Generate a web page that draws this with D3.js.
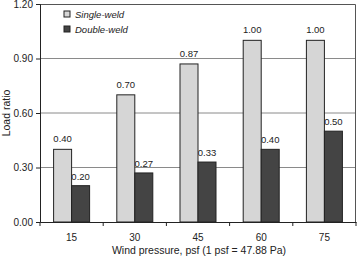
<!DOCTYPE html>
<html>
<head>
<meta charset="utf-8">
<script src="https://cdn.jsdelivr.net/npm/d3@7"></script>
<style>
  body { margin: 0; background: #fff; }
  text { font-family: "Liberation Sans", Arial, sans-serif; }
</style>
</head>
<body>
<div id="chart"></div>
<script>
const pressures = ["15", "30", "45", "60", "75"];
const singleWeld = [0.40, 0.70, 0.87, 1.00, 1.00];
const doubleWeld = [0.20, 0.27, 0.33, 0.40, 0.50];
const yTicks = [0, 0.3, 0.6, 0.9, 1.2];
const seriesNames = ["Single-weld", "Double-weld"];

const width = 362, height = 259;
const margin = {top: 4, right: 6, bottom: 37, left: 40};

const svg = d3.select("#chart").append("svg")
  .attr("width", width).attr("height", height);

const xScale = d3.scaleBand()
  .domain(pressures)
  .range([margin.left, width - margin.right]);

const yScale = d3.scaleLinear()
  .domain([0, 1.2])
  .range([height - margin.bottom, margin.top]);

const barW = 18;

// gridlines
svg.append("g")
  .selectAll("line")
  .data(yTicks.filter(d => d > 0 && d < 1.2))
  .join("line")
  .attr("x1", margin.left).attr("x2", width - margin.right)
  .attr("y1", d => yScale(d)).attr("y2", d => yScale(d))
  .attr("stroke", "#8a8a8a").attr("stroke-width", 1);

// frame top/right
svg.append("path")
  .attr("d", `M${margin.left},${margin.top + 0.5}H${width - margin.right - 0.5}V${height - margin.bottom}`)
  .attr("fill", "none").attr("stroke", "#555").attr("stroke-width", 1);

// double-weld labels drawn under the bars
svg.append("g")
  .selectAll("text")
  .data(doubleWeld)
  .join("text")
  .attr("x", (d, i) => xScale(pressures[i]) + xScale.bandwidth() / 2 + barW / 2)
  .attr("y", d => yScale(d) - 6)
  .attr("text-anchor", "middle")
  .attr("font-size", "9.5px").attr("fill", "#222")
  .text(d => d.toFixed(2));

svg.append("g")
  .selectAll("rect")
  .data(singleWeld)
  .join("rect")
  .attr("x", (d, i) => xScale(pressures[i]) + xScale.bandwidth() / 2 - barW)
  .attr("y", d => yScale(d))
  .attr("width", barW)
  .attr("height", d => yScale(0) - yScale(d))
  .attr("fill", "#d6d6d6").attr("stroke", "#222").attr("stroke-width", 1);

svg.append("g")
  .selectAll("rect")
  .data(doubleWeld)
  .join("rect")
  .attr("x", (d, i) => xScale(pressures[i]) + xScale.bandwidth() / 2)
  .attr("y", d => yScale(d))
  .attr("width", barW)
  .attr("height", d => yScale(0) - yScale(d))
  .attr("fill", "#444").attr("stroke", "#222").attr("stroke-width", 1);

svg.append("g")
  .selectAll("text")
  .data(singleWeld)
  .join("text")
  .attr("x", (d, i) => xScale(pressures[i]) + xScale.bandwidth() / 2 - barW / 2)
  .attr("y", d => yScale(d) - 7)
  .attr("text-anchor", "middle")
  .attr("font-size", "9.5px").attr("fill", "#222")
  .text(d => d.toFixed(2));

// axes
const xAxis = d3.axisBottom(xScale).tickSize(0).tickPadding(12);
const gx = svg.append("g")
  .attr("transform", `translate(0, ${height - margin.bottom})`)
  .call(xAxis);
gx.selectAll("text").attr("font-size", "10px").attr("fill", "#222");
gx.select(".domain").attr("stroke", "#222");
// tick marks between categories
gx.selectAll(".sep")
  .data(pressures.concat(["end"]))
  .join("line")
  .attr("class", "sep")
  .attr("x1", (d, i) => margin.left + i * xScale.step())
  .attr("x2", (d, i) => margin.left + i * xScale.step())
  .attr("y1", 0).attr("y2", 4)
  .attr("stroke", "#222");

const yAxis = d3.axisLeft(yScale).tickValues(yTicks).tickFormat(d3.format(".2f")).tickSize(4).tickPadding(3);
const gy = svg.append("g")
  .attr("transform", `translate(${margin.left}, 0)`)
  .call(yAxis);
gy.selectAll("text").attr("font-size", "10px").attr("fill", "#222");
gy.selectAll("line, .domain").attr("stroke", "#222");

// axis titles
svg.append("text")
  .attr("transform", `translate(10, ${yScale(0.6)}) rotate(-90)`)
  .attr("text-anchor", "middle")
  .attr("font-size", "10.5px").attr("fill", "#222")
  .text("Load ratio");

svg.append("text")
  .attr("x", (margin.left + width - margin.right) / 2 + 1)
  .attr("y", 254)
  .attr("text-anchor", "middle")
  .attr("font-size", "10.5px").attr("fill", "#222")
  .text("Wind pressure, psf (1 psf = 47.88 Pa)");

// legend
const legendColors = ["#d6d6d6", "#444"];
const legend = svg.append("g")
  .selectAll("g")
  .data(seriesNames)
  .join("g")
  .attr("transform", (d, i) => `translate(64, ${11 + i * 15})`);
legend.append("rect")
  .attr("width", 6).attr("height", 6)
  .attr("fill", (d, i) => legendColors[i]).attr("stroke", "#222");
legend.append("text")
  .attr("x", 11).attr("y", 6.5)
  .attr("font-size", "9.5px").attr("font-style", "italic").attr("fill", "#222")
  .text(d => d);
</script>
</body>
</html>
